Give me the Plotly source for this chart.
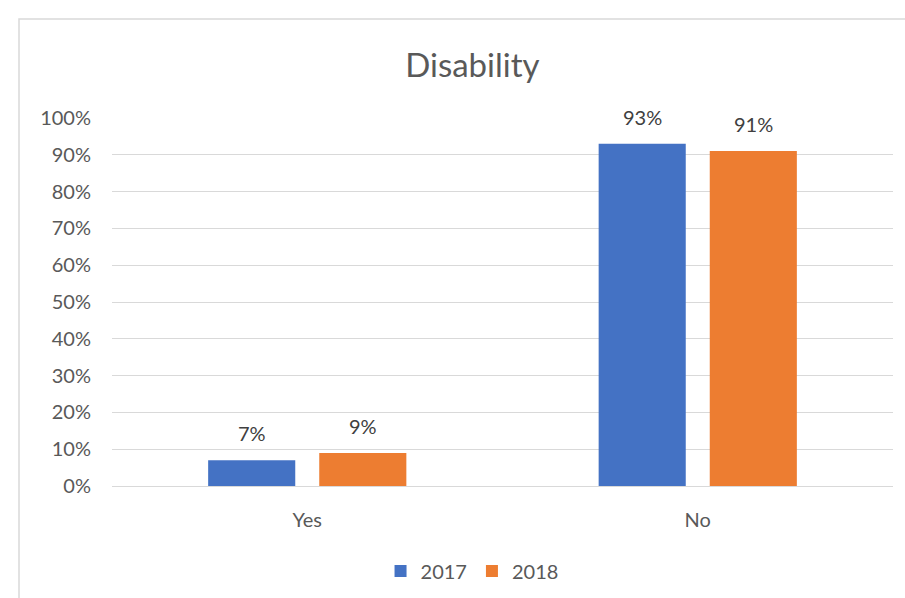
import plotly.graph_objects as go

categories = ["Yes", "No"]
series_names = ["2017", "2018"]
values_2017 = [0.07, 0.93]
values_2018 = [0.09, 0.91]
labels_2017 = ["7%", "93%"]
labels_2018 = ["9%", "91%"]
colors = ["#4472C4", "#ED7D31"]

FONT = "Lato, 'Open Sans', sans-serif"
GREY = "#595959"

BARGAP = 0.431
GROUPGAP = 0.216
PLOT_W = 781
slot = PLOT_W / len(categories) * (1 - BARGAP) / len(series_names)

fig = go.Figure()
annotations = []
series = [values_2017, values_2018]
labels = [labels_2017, labels_2018]
for i, (name, vals, labs, col) in enumerate(zip(series_names, series, labels, colors)):
    fig.add_trace(go.Bar(
        x=categories, y=vals, name=name, marker=dict(color=col, line=dict(width=0)),
        hoverinfo="skip",
    ))
    shift = (i - (len(series_names) - 1) / 2) * slot
    for c, v, t in zip(categories, vals, labs):
        annotations.append(dict(x=c, y=v, text=t, showarrow=False, xref="x", yref="y",
                                xshift=shift, yshift=13, yanchor="bottom",
                                font=dict(size=20, color="#404040", family=FONT)))

fig.update_layout(
    width=905, height=598,
    margin=dict(l=112, r=12, t=118, b=112),
    paper_bgcolor="white", plot_bgcolor="white",
    barmode="group", bargap=BARGAP, bargroupgap=GROUPGAP,
    font=dict(family=FONT, color=GREY),
    title=dict(text="Disability", x=0.522, xanchor="center", y=0.89, yanchor="middle",
               xref="container", yref="container",
               font=dict(size=33, color=GREY, family=FONT)),
    legend=dict(orientation="h", x=0.461, xanchor="center", y=1 - 571 / 598, yanchor="middle",
                xref="paper", yref="container",
                font=dict(size=20, color=GREY, family=FONT), itemwidth=30,
                traceorder="normal"),
    xaxis=dict(showgrid=False, showline=False, ticks="", tickfont=dict(size=20, color=GREY),
               ticklabelstandoff=20, automargin=False),
    yaxis=dict(range=[0, 1], dtick=0.1, tickformat=".0%", showgrid=True, gridcolor="#d9d9d9",
               gridwidth=1, zeroline=True, zerolinecolor="#d9d9d9", zerolinewidth=1,
               showline=False, ticks="", tickfont=dict(size=20, color=GREY),
               ticklabelstandoff=20, automargin=False),
    annotations=annotations,
    shapes=[dict(type="rect", xref="paper", yref="paper",
                 x0=(19 - 112) / 781, x1=1.2, y0=-1.0, y1=(486 - 19) / 368,
                 line=dict(color="#d9d9d9", width=1.5), fillcolor="rgba(0,0,0,0)",
                 layer="below")],
)

fig.write_html("out.html", config={"displayModeBar": False},
               post_script="document.body.style.margin='0';document.body.style.overflow='hidden';")
